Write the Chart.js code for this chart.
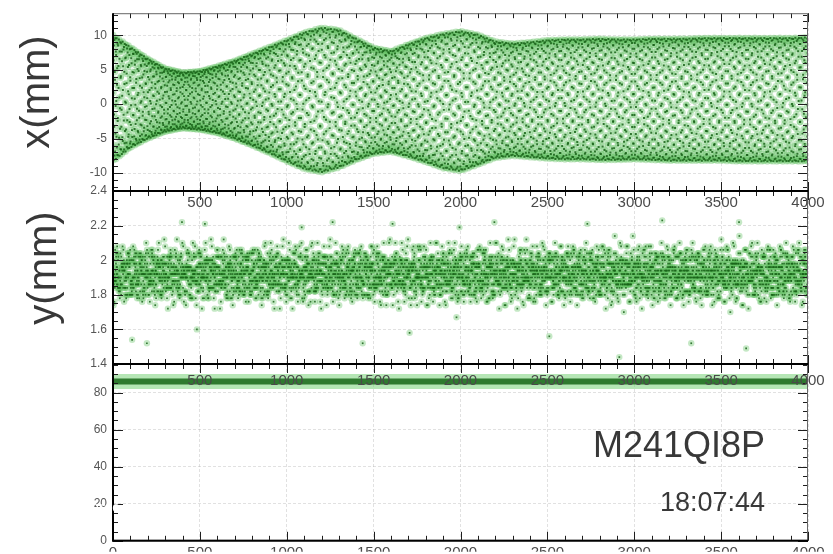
<!DOCTYPE html>
<html>
<head>
<meta charset="utf-8">
<script src="https://cdn.jsdelivr.net/npm/chart.js@4.4.1/dist/chart.umd.min.js"></script>
<style>
  html, body { margin: 0; padding: 0; background: #fff; }
  #wrap { position: relative; width: 833px; height: 554px; overflow: hidden; }
  #wrap canvas { position: absolute; left: 0; top: 0; }
  .lbl { position: absolute; font-family: "Liberation Sans", Arial, sans-serif; color: #383838; line-height: 1; white-space: nowrap; }
  .axis-title { font-size: 40px; transform: translate(-50%, -50%) rotate(-90deg); }
</style>
</head>
<body>
<div id="wrap">
  <canvas id="sumChart" width="833" height="554"></canvas>
  <canvas id="yChart" width="833" height="554"></canvas>
  <canvas id="xChart" width="833" height="554"></canvas>
  <div class="lbl axis-title" style="left:35px; top:92px;">x(mm)</div>
  <div class="lbl axis-title" style="left:42px; top:268px;">y(mm)</div>
  <div class="lbl" style="right:68px; top:427px; font-size:36px;">M241QI8P</div>
  <div class="lbl" style="right:68px; top:489px; font-size:27px;">18:07:44</div>
  <div class="lbl" style="left:92px; top:499px; font-size:16px; color:#fff; font-family:'Liberation Serif', serif;">arge</div>
</div>

<script>
// turn axis
const TURN_MAX = 4000;
const turnTicks = [0, 500, 1000, 1500, 2000, 2500, 3000, 3500, 4000];

// x(mm): upper / lower edge of the oscillation band, every 100 turns
const envTurns = Array.from({ length: 41 }, (_, i) => i * 100);
const xUpper = [10.0, 8.3, 6.6, 5.2, 4.6, 4.8, 5.5, 6.3, 7.3, 8.3,
                9.3, 10.4, 11.1, 10.8, 9.5, 8.2, 7.7, 8.7, 9.6, 10.2,
                10.6, 10.1, 9.1, 8.8, 9.0, 9.3, 9.4, 9.4, 9.5, 9.4,
                9.4, 9.5, 9.5, 9.5, 9.6, 9.6, 9.6, 9.6, 9.6, 9.6, 9.7];
const xLower = [-8.3, -6.3, -5.0, -4.0, -3.5, -3.7, -4.2, -5.0, -6.0, -7.1,
                -8.3, -9.4, -9.9, -9.2, -8.1, -7.2, -6.9, -7.6, -8.4, -9.3,
                -9.7, -8.8, -7.8, -7.5, -7.7, -7.9, -8.0, -8.0, -8.1, -8.1,
                -8.0, -8.1, -8.2, -8.2, -8.2, -8.2, -8.3, -8.3, -8.3, -8.3, -8.3];
const xTune = 0.38197;
const xTicks = [-10, -5, 0, 5, 10];

// y(mm): closed orbit plus small residual components, ADC step
const yCenter = 1.92;
const yTunes = [0.1631, 0.4127, 0.0293, 0.3571];
const yAmps = [0.07, 0.06, 0.05, 0.04];
const yPhases = [0.0, 1.1, 2.3, 4.0];
const yStep = 0.02;
// isolated readings far from the core
const yOutlierTurns = [110, 195, 483, 1437, 1707, 1977, 2511, 2914, 3328, 3644,
                       397, 529, 1086, 1264, 1609, 1994, 2195, 2730, 3161, 3603];
const yOutlierValues = [1.54, 1.52, 1.60, 1.52, 1.58, 1.67, 1.56, 1.44, 1.52, 1.49,
                        2.22, 2.21, 2.19, 2.22, 2.21, 2.19, 2.22, 2.21, 2.23, 2.22];
const yTicks = [1.4, 1.6, 1.8, 2.0, 2.2, 2.4];

// sum signal
const sumTurns = [0, 500, 1000, 1500, 2000, 2500, 3000, 3500, 4000];
const sumValues = [86, 86, 86, 86, 86, 86, 86, 86, 86];
const sumTicks = [0, 20, 40, 60, 80];

function edgeAt(arr, n) {
  const i = Math.min(Math.floor(n / 100), envTurns.length - 2);
  const f = (n - envTurns[i]) / 100;
  return arr[i] + (arr[i + 1] - arr[i]) * f;
}

const xPoints = [];
for (let n = 0; n <= TURN_MAX; n++) {
  const hi = edgeAt(xUpper, n), lo = edgeAt(xLower, n);
  xPoints.push({ x: n, y: (hi + lo) / 2 + (hi - lo) / 2 * Math.cos(2 * Math.PI * xTune * n) });
}

const yPoints = [];
for (let n = 0; n <= TURN_MAX; n++) {
  let v = yCenter;
  for (let k = 0; k < yTunes.length; k++) v += yAmps[k] * Math.cos(2 * Math.PI * yTunes[k] * n + yPhases[k]);
  yPoints.push({ x: n, y: Math.round(v / yStep) * yStep });
}
yOutlierTurns.forEach((t, i) => { yPoints[t] = { x: t, y: yOutlierValues[i] }; });

const sumPoints = sumTurns.map((t, i) => ({ x: t, y: sumValues[i] }));

// ticks drawn inward on all four sides, plus the frame
const frameTicks = {
  id: 'frameTicks',
  afterDatasetsDraw(chart, args, opts) {
    const { ctx, chartArea: a } = chart;
    const xs = chart.scales.x, ys = chart.scales.y;
    ctx.save();
    ctx.strokeStyle = '#1e1e1e';
    ctx.lineWidth = 1;
    ctx.beginPath();
    for (let t = 0; t <= TURN_MAX; t += 100) {
      const px = Math.round(xs.getPixelForValue(t)) + 0.5;
      const len = t % 500 === 0 ? 9 : 5;
      ctx.moveTo(px, a.bottom); ctx.lineTo(px, a.bottom - len);
      ctx.moveTo(px, a.top); ctx.lineTo(px, a.top + len);
    }
    const k0 = Math.ceil(ys.min / opts.minor - 1e-9);
    for (let k = k0; k * opts.minor <= ys.max + 1e-9; k++) {
      const v = k * opts.minor;
      const r = v / opts.major;
      const len = Math.abs(r - Math.round(r)) < 1e-6 ? 10 : 5;
      const py = Math.round(ys.getPixelForValue(v)) + 0.5;
      ctx.moveTo(a.left, py); ctx.lineTo(a.left + len, py);
      ctx.moveTo(a.right, py); ctx.lineTo(a.right - len, py);
    }
    ctx.stroke();
    ctx.strokeStyle = '#666';
    ctx.strokeRect(a.left + 0.5, a.top + 0.5, a.width - 1, a.height - 1);
    ctx.strokeStyle = '#000';
    ctx.lineWidth = 2;
    ctx.beginPath();
    ctx.moveTo(a.left, a.top); ctx.lineTo(a.left, a.bottom); ctx.lineTo(a.right, a.bottom);
    ctx.stroke();
    ctx.restore();
  }
};

function panel(canvasId, datasets, cfg) {
  return new Chart(document.getElementById(canvasId), {
    type: 'scatter',
    data: { datasets: datasets },
    options: {
      responsive: false,
      animation: false,
      devicePixelRatio: 1,
      layout: { padding: { left: 0, right: 25, top: cfg.top, bottom: 0 } },
      plugins: { legend: { display: false }, tooltip: { enabled: false }, frameTicks: { minor: cfg.minor, major: cfg.major } },
      scales: {
        x: {
          type: 'linear', min: 0, max: TURN_MAX,
          afterBuildTicks: s => { s.ticks = turnTicks.map(v => ({ value: v })); },
          afterFit: s => { s.height = 554 - cfg.bottom; },
          ticks: {
            autoSkip: false, maxRotation: 0, padding: cfg.xPad, color: '#4a4a4a',
            font: { family: 'Liberation Sans', size: 15 },
            callback: v => (v === 0 && !cfg.showZero) ? '' : String(v)
          },
          grid: { color: 'rgba(170,170,170,0.35)', drawTicks: false },
          border: { display: false, dash: [3, 2] }
        },
        y: {
          type: 'linear', min: cfg.yMin, max: cfg.yMax,
          afterBuildTicks: s => { s.ticks = cfg.yTicks.map(v => ({ value: v })); },
          afterFit: s => { s.width = 113; },
          ticks: {
            padding: 6, color: '#555',
            font: { family: 'Liberation Sans', size: 12 },
            callback: v => String(+v.toFixed(2))
          },
          grid: { color: 'rgba(170,170,170,0.35)', drawTicks: false },
          border: { display: false, dash: [3, 2] }
        }
      }
    },
    plugins: [frameTicks]
  });
}

function cloud(points, r) {
  return [
    { data: points, pointRadius: r + 2.0, pointBackgroundColor: 'rgba(95,190,95,0.36)', pointBorderWidth: 0, order: 2 },
    { data: points, pointStyle: 'rect', pointRadius: r, pointBackgroundColor: 'rgba(25,100,25,0.85)', pointBorderWidth: 0, order: 1 }
  ];
}

panel('sumChart', [
  { data: sumPoints, showLine: true, borderColor: 'rgba(120,210,120,0.55)', borderWidth: 15, pointRadius: 0, order: 2 },
  { data: sumPoints, showLine: true, borderColor: '#2f7a2f', borderWidth: 6, pointRadius: 0, order: 1 }
], { top: 364, bottom: 543, yMin: 0, yMax: 95.5, yTicks: sumTicks, minor: 5, major: 20, xPad: 3, showZero: true });

panel('yChart', cloud(yPoints, 1.2),
  { top: 191, bottom: 364, yMin: 1.4, yMax: 2.4, yTicks: yTicks, minor: 0.05, major: 0.2, xPad: 8, showZero: false });

panel('xChart', cloud(xPoints, 1.4),
  { top: 13, bottom: 191, yMin: -12.6, yMax: 13.2, yTicks: xTicks, minor: 1, major: 5, xPad: 3, showZero: false });
</script>
</body>
</html>
